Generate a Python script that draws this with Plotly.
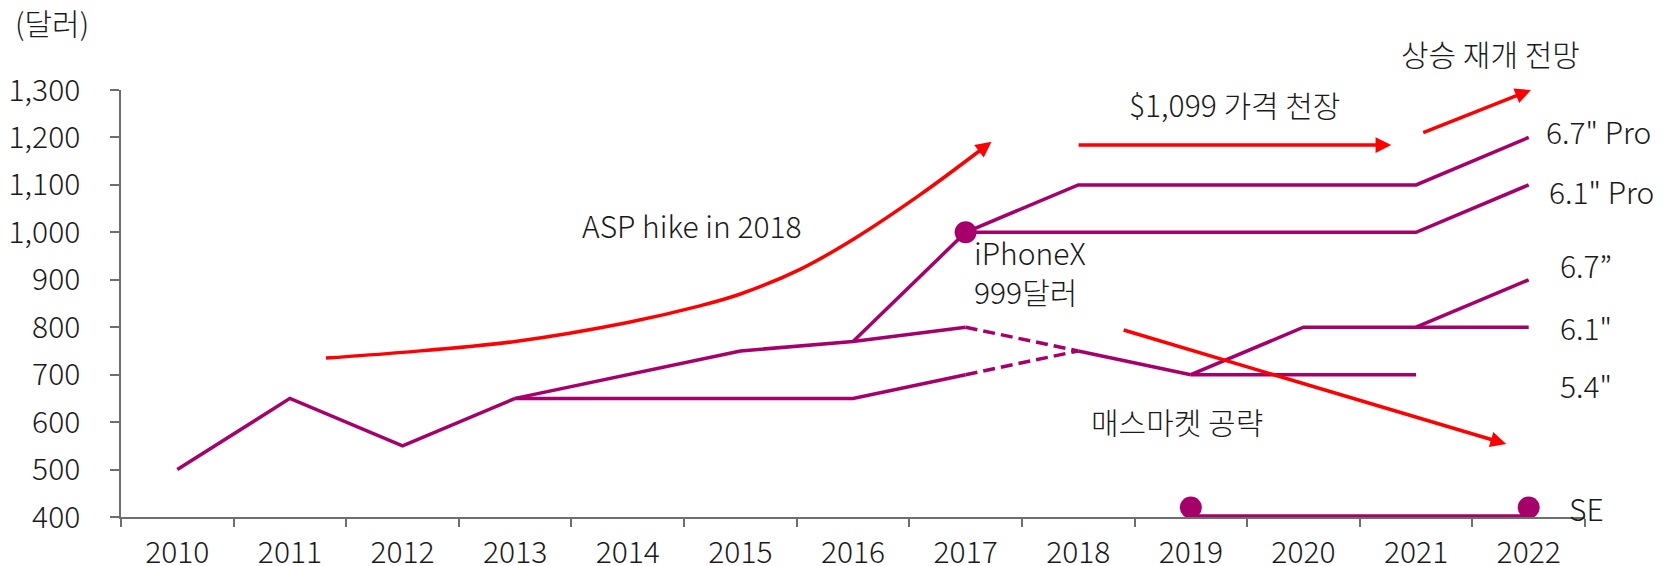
import plotly.graph_objects as go

# ---------------- data ----------------
years = ["2010", "2011", "2012", "2013", "2014", "2015", "2016",
         "2017", "2018", "2019", "2020", "2021", "2022"]
yr = {y: i for i, y in enumerate(years)}

base_x = ["2010", "2011", "2012", "2013"]
base_y = [500, 650, 550, 650]

upper_x = ["2013", "2014", "2015", "2016", "2017"]
upper_y = [650, 700, 750, 770, 800]

lower_x = ["2013", "2014", "2015", "2016", "2017"]
lower_y = [650, 650, 650, 650, 700]

upper_dash_x = ["2017", "2018"]
upper_dash_y = [800, 750]
lower_dash_x = ["2017", "2018"]
lower_dash_y = [700, 750]

mid_x = ["2018", "2019"]
mid_y = [750, 700]

s54_x = ["2019", "2020", "2021"]
s54_y = [700, 700, 700]

s61_x = ["2019", "2020", "2021", "2022"]
s61_y = [700, 800, 800, 800]

s67_x = ["2021", "2022"]
s67_y = [800, 900]

x_jump_x = ["2016", "2017"]
x_jump_y = [770, 1000]

pro67_x = ["2017", "2018", "2019", "2020", "2021", "2022"]
pro67_y = [1000, 1100, 1100, 1100, 1100, 1200]

pro61_x = ["2017", "2018", "2019", "2020", "2021", "2022"]
pro61_y = [1000, 1000, 1000, 1000, 1000, 1100]

iphonex_x = ["2017"]
iphonex_y = [1000]

se_x = ["2019", "2022"]
se_line_y = [402, 402]
se_marker_y = [420, 420]

# red trend arrows (x in year-index units)
asp_curve_x = [1.32, 2.0, 3.0, 4.0, 4.64, 5.0, 5.53, 6.0, 6.6, 7.13]
asp_curve_y = [735, 747, 770, 810, 845, 870, 922, 985, 1080, 1173]
asp_tip = (7.23, 1191)

ceiling_x = [7.99, 10.78]
ceiling_y = [1184, 1184]

resume_x = [11.05, 12.02]
resume_y = [1209, 1300]

mass_x = [8.39, 11.80]
mass_y = [795, 554]

PURPLE = "#A6006A"
RED = "#FF0000"
FONT = "Noto Sans CJK KR"
TXT = "#1a1a1a"
FS = 30


def idx(lst):
    return [yr[v] for v in lst]


fig = go.Figure()


def purple(xs, ys, dash="solid"):
    fig.add_trace(go.Scatter(
        x=idx(xs), y=ys, mode="lines",
        line=dict(color=PURPLE, width=3.5, dash=dash),
        showlegend=False, hoverinfo="skip", cliponaxis=False))


purple(base_x, base_y)
purple(upper_x, upper_y)
purple(lower_x, lower_y)
purple(upper_dash_x, upper_dash_y, dash="12px,6px")
purple(lower_dash_x, lower_dash_y, dash="12px,6px")
purple(mid_x, mid_y)
purple(s54_x, s54_y)
purple(s61_x, s61_y)
purple(s67_x, s67_y)
purple(x_jump_x, x_jump_y)
purple(pro67_x, pro67_y)
purple(pro61_x, pro61_y)
purple(se_x, se_line_y)

fig.add_trace(go.Scatter(
    x=idx(iphonex_x), y=iphonex_y, mode="markers",
    marker=dict(color=PURPLE, size=22),
    showlegend=False, hoverinfo="skip", cliponaxis=False))
fig.add_trace(go.Scatter(
    x=idx(se_x), y=se_marker_y, mode="markers",
    marker=dict(color=PURPLE, size=22),
    showlegend=False, hoverinfo="skip", cliponaxis=False))

# red curve
fig.add_trace(go.Scatter(
    x=asp_curve_x, y=asp_curve_y, mode="lines",
    line=dict(color=RED, width=3.5, shape="spline", smoothing=1.0),
    showlegend=False, hoverinfo="skip", cliponaxis=False))

annotations = []


def arrow(x0, y0, x1, y1):
    annotations.append(dict(
        x=x1, y=y1, ax=x0, ay=y0, xref="x", yref="y", axref="x", ayref="y",
        text="", showarrow=True, arrowhead=2, arrowsize=0.9,
        arrowwidth=3.5, arrowcolor=RED, standoff=0, startstandoff=0))


arrow(asp_curve_x[-1], asp_curve_y[-1], asp_tip[0], asp_tip[1])
arrow(ceiling_x[0], ceiling_y[0], ceiling_x[1], ceiling_y[1])
arrow(resume_x[0], resume_y[0], resume_x[1], resume_y[1])
arrow(mass_x[0], mass_y[0], mass_x[1], mass_y[1])


def label(text, x, y, xanchor="center", xref="x", yref="y", align="center"):
    annotations.append(dict(
        text=text, x=x, y=y, xref=xref, yref=yref, xanchor=xanchor,
        yanchor="middle", showarrow=False, align=align,
        font=dict(family=FONT, size=FS, color=TXT, weight=300)))


label("ASP hike in 2018", 4.57, 1016)
label("iPhoneX<br>999달러", 7.06, 918, xanchor="left", align="left")
label("$1,099 가격 천장", 9.39, 1270)
label("상승 재개 전망", 11.66, 1.087, yref="paper")
label("6.7\" Pro", 12.14, 1213, xanchor="left")
label("6.1\" Pro", 12.16, 1087, xanchor="left")
label("6.7”", 12.26, 931, xanchor="left")
label("6.1\"", 12.26, 800, xanchor="left")
label("5.4\"", 12.26, 678, xanchor="left")
label("매스마켓 공략", 8.875, 603)
label("SE", 12.34, 419, xanchor="left")
label("(달러)", -0.0741, 1.159, xanchor="left", xref="paper", yref="paper")

AX = "#6e6e6e"
TICKFONT = dict(family=FONT, size=FS, color=TXT, weight=300)

fig.update_layout(
    template="none",
    width=1673, height=566,
    margin=dict(l=113, r=96, t=82, b=57, pad=0, autoexpand=False),
    paper_bgcolor="white", plot_bgcolor="white",
    font=dict(family=FONT, size=FS, color=TXT),
    annotations=annotations,
    xaxis=dict(
        range=[-0.5, 12.5], tickmode="array", automargin=False,
        tickvals=list(range(len(years))), ticktext=years,
        ticks="", showgrid=False, zeroline=False,
        showline=True, linecolor=AX, linewidth=1.5,
        ticklabelstandoff=8,
        tickfont=TICKFONT,
        minor=dict(tickmode="array",
                   tickvals=[i - 0.5 for i in range(len(years) + 1)],
                   ticks="outside", ticklen=8, tickwidth=1.5,
                   tickcolor=AX, showgrid=False),
    ),
    yaxis=dict(
        range=[400, 1300], tickmode="linear", tick0=400, dtick=100,
        automargin=False,
        tickformat=",", ticks="outside", ticklen=9, tickwidth=1.5,
        tickcolor=AX, showgrid=False, zeroline=False,
        showline=True, linecolor=AX, linewidth=1.5,
        ticklabelstandoff=24,
        tickfont=TICKFONT,
    ),
)

fig.write_html("out.html")
